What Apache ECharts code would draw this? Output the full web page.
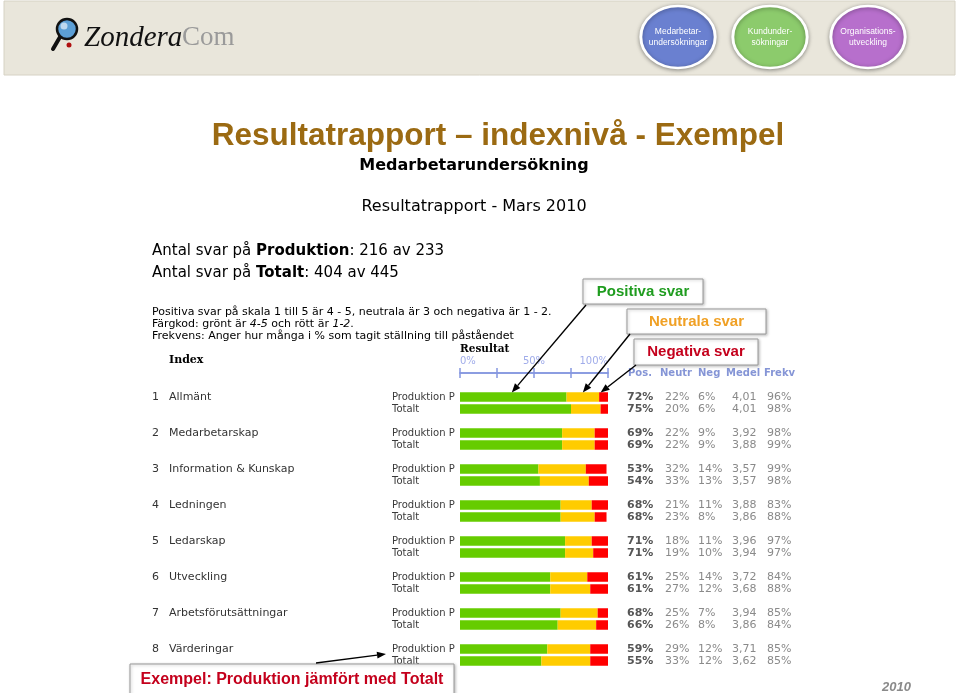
<!DOCTYPE html>
<html>
<head>
<meta charset="utf-8">
<script src="https://cdn.jsdelivr.net/npm/echarts@6/dist/echarts.min.js"></script>
<style>html,body{margin:0;padding:0;background:#fff}#c{width:959px;height:693px}</style>
</head>
<body>
<div id="c"></div>
<script>
// ---- data ----
const indexNames = ["Allmänt","Medarbetarskap","Information & Kunskap","Ledningen","Ledarskap","Utveckling","Arbetsförutsättningar","Värderingar"];
const rowLabels = ["Produktion P","Totalt"];
const prodPos = [72,69,53,68,71,61,68,59];
const prodNeu = [22,22,32,21,18,25,25,29];
const prodNeg = [6,9,14,11,11,14,7,12];
const totPos  = [75,69,54,68,71,61,66,55];
const totNeu  = [20,22,33,23,19,27,26,33];
const totNeg  = [6,9,13,8,10,12,8,12];
const prodMedel = [4.01,3.92,3.57,3.88,3.96,3.72,3.94,3.71];
const totMedel  = [4.01,3.88,3.57,3.86,3.94,3.68,3.86,3.62];
const prodFrekv = [96,98,99,83,97,84,85,85];
const totFrekv  = [98,99,98,88,97,88,84,85];
const axisTicks = [0,25,50,75,100];
const axisTickLabels = {0:"0%",50:"50%",100:"100%"};

// ---- build category rows: P, T, gap for each index ----
const cats = [], pos = [], neu = [], neg = [];
indexNames.forEach((n,i)=>{
  cats.push('P'+i); pos.push(prodPos[i]); neu.push(prodNeu[i]); neg.push(prodNeg[i]);
  cats.push('T'+i); pos.push(totPos[i]); neu.push(totNeu[i]); neg.push(totNeg[i]);
  cats.push('G'+i); pos.push('-'); neu.push('-'); neg.push('-');
});

const SANS = 'DejaVu Sans';
const ARIAL = 'Liberation Sans';
const chart = echarts.init(document.getElementById('c'), null, {renderer:'canvas'});

const xBase = {
  type:'value', min:0, max:100, interval:25, position:'top', offset:18,
  gridIndex:0, splitLine:{show:false},
  axisLine:{show:true, lineStyle:{color:'#8596e0', width:1.5}}
};

chart.setOption({
  animation:false,
  backgroundColor:'#ffffff',
  grid:{left:460, width:148, top:391, height:288, containLabel:false},
  xAxis:[
    Object.assign({}, xBase, {
      axisTick:{show:true, length:5, inside:false, lineStyle:{color:'#8596e0', width:1.5}},
      axisLabel:{show:true, margin:7, color:'#a0acea', fontFamily:SANS, fontSize:10,
        alignMinLabel:'left', alignMaxLabel:'right',
        formatter:v=> axisTickLabels[v] || ''}
    }),
    Object.assign({}, xBase, {
      axisTick:{show:true, length:5, inside:true, lineStyle:{color:'#8596e0', width:1.5}},
      axisLabel:{show:false}
    })
  ],
  yAxis:[
    {type:'category', data:cats, inverse:true, position:'left',
     axisLine:{show:false}, axisTick:{show:false}, splitLine:{show:false},
     axisLabel:{interval:0, align:'left', margin:308,
       formatter:(v,idx)=>{
         const g=Math.floor(idx/3), k=idx%3;
         if(k===2) return '';
         if(k===0) return '{n|'+(g+1)+'}{t|'+indexNames[g]+'}{r|'+rowLabels[0]+'}';
         return '{n| }{t| }{r|'+rowLabels[1]+'}';
       },
       rich:{
         n:{width:17, fontSize:11, fontFamily:SANS, color:'#333', lineHeight:12},
         t:{width:223, fontSize:11, fontFamily:SANS, color:'#333', lineHeight:12},
         r:{fontSize:10, fontFamily:SANS, color:'#3a3a3a', lineHeight:12}
       }}
    },
    {type:'category', data:cats, inverse:true, position:'right',
     axisLine:{show:false}, axisTick:{show:false}, splitLine:{show:false},
     axisLabel:{interval:0, align:'left', margin:19,
       formatter:(v,idx)=>{
         const g=Math.floor(idx/3), k=idx%3;
         if(k===2) return '';
         const p = k? totPos[g]:prodPos[g], n = k? totNeu[g]:prodNeu[g], ng = k? totNeg[g]:prodNeg[g];
         const m = (k? totMedel[g]:prodMedel[g]).toFixed(2).replace('.',',');
         const f = k? totFrekv[g]:prodFrekv[g];
         return '{p|'+p+'%}{u|'+n+'%}{g|'+ng+'%}{m|'+m+'}{f|'+f+'%}';
       },
       rich:{
         p:{width:38, fontSize:11, fontWeight:'bold', fontFamily:SANS, color:'#555', lineHeight:12},
         u:{width:33, fontSize:11, fontFamily:SANS, color:'#8a8a8a', lineHeight:12},
         g:{width:34, fontSize:11, fontFamily:SANS, color:'#8a8a8a', lineHeight:12},
         m:{width:35, fontSize:11, fontFamily:SANS, color:'#8a8a8a', lineHeight:12},
         f:{fontSize:11, fontFamily:SANS, color:'#8a8a8a', lineHeight:12}
       }}
    }
  ],
  series:[
    {name:'Positiva', type:'bar', stack:'s', data:pos, barWidth:9.5, itemStyle:{color:'#66cc00'}, silent:true},
    {name:'Neutrala', type:'bar', stack:'s', data:neu, barWidth:9.5, itemStyle:{color:'#ffcc00'}, silent:true},
    {name:'Negativa', type:'bar', stack:'s', data:neg, barWidth:9.5, itemStyle:{color:'#ff0000'}, silent:true}
  ]
});

// ---- annotations ----
function txt(x,y,text,o){
  return {type:'text', x:x, y:y, silent:true, z:10,
    style:Object.assign({text:text, fill:'#000', fontFamily:SANS, fontSize:11,
      align:'left', verticalAlign:'middle', textAlign:'left', textVerticalAlign:'middle'}, o||{})};
}
function arrow(x1,y1,x2,y2){
  const a=Math.atan2(y2-y1,x2-x1), L=9, W=3.5;
  const bx=x2-L*Math.cos(a), by=y2-L*Math.sin(a);
  const px=-Math.sin(a)*W, py=Math.cos(a)*W;
  return [
    {type:'line', z:20, silent:true, shape:{x1:x1,y1:y1,x2:bx,y2:by}, style:{stroke:'#000', lineWidth:1.4}},
    {type:'polygon', z:20, silent:true, shape:{points:[[x2,y2],[bx+px,by+py],[bx-px,by-py]]}, style:{fill:'#000'}}
  ];
}
function box(x,y,w,h,text,color,fs){
  return [
    {type:'rect', z:15, silent:true, shape:{x:x,y:y,width:w,height:h},
      style:{fill:'#fff', stroke:'#9a9a9a', lineWidth:1, shadowBlur:3, shadowOffsetX:1, shadowOffsetY:1, shadowColor:'rgba(0,0,0,0.25)'}},
    {type:'text', z:16, silent:true, x:x+w/2, y:y+h/2,
      style:{text:text, fill:color, fontFamily:ARIAL, fontWeight:'bold', fontSize:fs,
        align:'center', verticalAlign:'middle', textAlign:'center', textVerticalAlign:'middle'}}
  ];
}

const tipY = chart.convertToPixel({yAxisIndex:0}, 'P0') - 4.5;
const tipPos = chart.convertToPixel({xAxisIndex:0}, 35);
const tipNeu = chart.convertToPixel({xAxisIndex:0}, 83);
const tipNeg = chart.convertToPixel({xAxisIndex:0}, 95);
const labelX = 386, labelY = chart.convertToPixel({yAxisIndex:0}, 'T7') - 7;

const g = [];
// header strip
g.push({type:'rect', silent:true, z:1, shape:{x:4,y:1,width:951,height:74}, style:{fill:'#e9e6db', stroke:'#d6d2c4', lineWidth:1}});
// logo
g.push({type:'line', silent:true, z:2, shape:{x1:60,y1:37,x2:53,y2:49}, style:{stroke:'#111', lineWidth:4, lineCap:'round'}});
g.push({type:'circle', silent:true, z:2, shape:{cx:67,cy:29,r:10}, style:{fill:'#5c9fd6', stroke:'#111', lineWidth:2.5}});
g.push({type:'circle', silent:true, z:3, shape:{cx:64,cy:26,r:3.5}, style:{fill:'rgba(255,255,255,0.6)'}});
g.push({type:'circle', silent:true, z:2, shape:{cx:69,cy:45,r:2.5}, style:{fill:'#b01010'}});
g.push(txt(84,38,'Zondera',{fontFamily:'Liberation Serif', fontStyle:'italic', fontSize:29, fill:'#111'}));
g.push(txt(182,38,'Com',{fontFamily:'Liberation Serif', fontSize:27, fill:'#9a9a9a'}));
// nav circles (slightly wide ovals)
[[678,'#6a80d0','Medarbetar-\nundersökningar'],[770,'#8ccb6c','Kundunder-\nsökningar'],[868,'#b76fcc','Organisations-\nutveckling']].forEach(c=>{
  g.push({type:'circle', silent:true, z:2, x:c[0], y:37, scaleX:1.2, scaleY:1, shape:{cx:0,cy:0,r:31},
    style:{fill:c[1], stroke:'#fff', lineWidth:2.5, shadowBlur:4, shadowOffsetY:1, shadowColor:'rgba(0,0,0,0.35)'}});
  g.push({type:'text', silent:true, z:3, x:c[0], y:37, style:{text:c[2], fill:'#fff', fontFamily:ARIAL, fontSize:8.5, lineHeight:11,
    align:'center', verticalAlign:'middle', textAlign:'center', textVerticalAlign:'middle'}});
});
// titles
g.push({type:'text', silent:true, z:5, x:498, y:136, style:{text:'Resultatrapport – indexnivå - Exempel', fill:'#9b6a12',
  fontFamily:ARIAL, fontWeight:'bold', fontSize:31.5, align:'center', verticalAlign:'middle', textAlign:'center', textVerticalAlign:'middle'}});
g.push({type:'text', silent:true, z:5, x:474, y:166, style:{text:'Medarbetarundersökning', fill:'#000',
  fontFamily:SANS, fontWeight:'bold', fontSize:16, align:'center', verticalAlign:'middle', textAlign:'center', textVerticalAlign:'middle'}});
g.push({type:'text', silent:true, z:5, x:474, y:207, style:{text:'Resultatrapport - Mars 2010', fill:'#000',
  fontFamily:SANS, fontSize:16, align:'center', verticalAlign:'middle', textAlign:'center', textVerticalAlign:'middle'}});
// counts
g.push(txt(152,251,'Antal svar på {b|Produktion}: 216 av 233',{fontSize:15, fill:'#000', rich:{b:{fontWeight:'bold', fontSize:15, fontFamily:SANS, fill:'#000', color:'#000'}}}));
g.push(txt(152,273,'Antal svar på {b|Totalt}: 404 av 445',{fontSize:15, fill:'#000', rich:{b:{fontWeight:'bold', fontSize:15, fontFamily:SANS, fill:'#000', color:'#000'}}}));
// explanation
g.push(txt(152,312,'Positiva svar på skala 1 till 5 är 4 - 5, neutrala är 3 och negativa är 1 - 2.',{fontSize:11}));
g.push(txt(152,324,'Färgkod: grönt är {i|4-5} och rött är {i|1-2}.',{fontSize:11, rich:{i:{fontStyle:'italic', fontSize:11, fontFamily:SANS}}}));
g.push(txt(152,336,'Frekvens: Anger hur många i % som tagit ställning till påståendet',{fontSize:11}));
g.push(txt(169,360,'Index',{fontFamily:'DejaVu Serif', fontWeight:'bold', fontSize:11}));
g.push(txt(460,349,'Resultat',{fontFamily:'DejaVu Serif', fontWeight:'bold', fontSize:10.5}));
// column headers
[[628,'Pos.'],[660,'Neutr'],[698,'Neg'],[726,'Medel'],[764,'Frekv']].forEach(h=>{
  g.push(txt(h[0],373,h[1],{fontWeight:'bold', fontSize:10, fill:'#8595d6'}));
});
// callouts
g.push(...box(583,279,120,25,'Positiva svar','#1f9c1f',15));
g.push(...box(627,309,139,25,'Neutrala svar','#f0a024',15));
g.push(...box(634,339,124,26,'Negativa svar','#c4001c',15));
g.push(...arrow(586,305,tipPos,tipY));
g.push(...arrow(630,334,tipNeu,tipY));
g.push(...arrow(636,365,tipNeg,tipY));
// example box
g.push(...arrow(316,663,labelX,labelY));
g.push(...box(130,664,324,32,'Exempel: Produktion jämfört med Totalt','#c4001c',16));
g.push(txt(882,687,'2010',{fontFamily:ARIAL, fontStyle:'italic', fontWeight:'bold', fontSize:13, fill:'#8a8a8a'}));

chart.setOption({graphic:{elements:g}});
</script>
</body>
</html>
